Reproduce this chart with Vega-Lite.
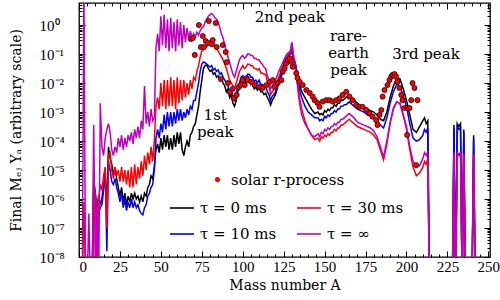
{
"$schema":"https://vega.github.io/schema/vega-lite/v6.json",
"width":411,"height":254,
"autosize":{"type":"none"},
"padding":{"left":79,"top":3,"right":10,"bottom":43},
"config":{
 "font":"DejaVu Serif",
 "view":{"stroke":"black","strokeWidth":1.3},
 "axis":{"grid":false,"domain":false,"tickColor":"black","labelColor":"black","titleColor":"black","labelFont":"Liberation Serif","titleFont":"DejaVu Serif","labelFontSize":15,"titleFontSize":14,"titleFontWeight":"normal","tickWidth":1},
 "legend":{"labelFont":"DejaVu Serif","labelFontSize":14,"labelColor":"black"}
},
"datasets":{
"lines":[
{"A":1,"k":-9,"b":-9,"r":-9,"m":-9},
{"A":2,"k":-9,"b":-9,"r":-9,"m":-9},
{"A":3,"k":-9,"b":-9,"r":-6.1,"m":1.5},
{"A":4,"k":-9,"b":-9,"r":-9,"m":-9},
{"A":5,"k":-9,"b":-9,"r":-9,"m":-9},
{"A":6,"k":-9,"b":-9,"r":-9,"m":-6.5},
{"A":7,"k":-9,"b":-9,"r":-9,"m":-9},
{"A":8,"k":-9,"b":-9,"r":-9,"m":-9},
{"A":9,"k":-5.4,"b":-5.8,"r":-5.3,"m":-3.45},
{"A":10,"k":-5.8,"b":-6.2,"r":-5.9,"m":-9},
{"A":11,"k":-6.3,"b":-6.6,"r":-9,"m":-6.0},
{"A":12,"k":-5.9,"b":-6.5,"r":-6.0,"m":-9},
{"A":13,"k":-6.2,"b":-6.3,"r":-5.5,"m":-2.7},
{"A":14,"k":-6.0,"b":-6.2,"r":-5.7,"m":-4.2},
{"A":15,"k":-5.5,"b":-5.7,"r":-5.2,"m":-4.5},
{"A":16,"k":-5.2,"b":-5.0,"r":-4.9,"m":-3.9},
{"A":17,"k":-6.2,"b":-7.8,"r":-7.0,"m":-3.6},
{"A":18,"k":-4.2,"b":-4.7,"r":-4.5,"m":-3.4},
{"A":19,"k":-4.6,"b":-5.0,"r":-4.4,"m":-3.7},
{"A":20,"k":-4.8,"b":-5.4,"r":-5.0,"m":-4.3},
{"A":21,"k":-5.2,"b":-5.5,"r":-5.3,"m":-4.5},
{"A":22,"k":-4.9,"b":-5.3,"r":-4.9,"m":-4.2},
{"A":23,"k":-5.3,"b":-5.6,"r":-5.2,"m":-4.4},
{"A":24,"k":-5.6,"b":-5.8,"r":-5.0,"m":-3.9},
{"A":25,"k":-5.9,"b":-6.1,"r":-5.4,"m":-4.2},
{"A":26,"k":-5.6,"b":-5.8,"r":-4.9,"m":-3.8},
{"A":27,"k":-6.1,"b":-6.3,"r":-5.4,"m":-4.3},
{"A":28,"k":-5.8,"b":-6.0,"r":-5.0,"m":-3.9},
{"A":29,"k":-6.2,"b":-6.4,"r":-5.5,"m":-4.2},
{"A":30,"k":-5.9,"b":-6.1,"r":-5.0,"m":-3.8},
{"A":31,"k":-6.1,"b":-6.3,"r":-5.6,"m":-4.0},
{"A":32,"k":-5.8,"b":-6.0,"r":-4.9,"m":-3.7},
{"A":33,"k":-6.0,"b":-6.3,"r":-5.6,"m":-4.1},
{"A":34,"k":-5.8,"b":-6.1,"r":-4.8,"m":-3.6},
{"A":35,"k":-6.0,"b":-6.3,"r":-5.5,"m":-3.9},
{"A":36,"k":-5.9,"b":-6.2,"r":-4.9,"m":-3.5},
{"A":37,"k":-6.1,"b":-6.4,"r":-5.3,"m":-3.9},
{"A":38,"k":-5.9,"b":-6.5,"r":-4.7,"m":-3.3},
{"A":39,"k":-6.1,"b":-6.55,"r":-5.2,"m":-3.6},
{"A":40,"k":-5.8,"b":-6.3,"r":-4.5,"m":-2.1},
{"A":41,"k":-5.9,"b":-6.2,"r":-5.0,"m":-3.4},
{"A":42,"k":-5.6,"b":-5.9,"r":-4.4,"m":-3.0},
{"A":43,"k":-5.5,"b":-5.8,"r":-4.8,"m":-3.5},
{"A":44,"k":-5.2,"b":-5.6,"r":-4.2,"m":-2.9},
{"A":45,"k":-5.3,"b":-5.5,"r":-4.7,"m":-3.3},
{"A":46,"k":-4.9,"b":-5.0,"r":-4.0,"m":-3.2},
{"A":47,"k":-4.3,"b":-3.9,"r":-2.8,"m":-0.8},
{"A":48,"k":-4.1,"b":-3.6,"r":-2.5,"m":-0.3},
{"A":49,"k":-4.4,"b":-3.9,"r":-2.9,"m":-0.9},
{"A":50,"k":-3.9,"b":-3.4,"r":-2.0,"m":0.3},
{"A":51,"k":-4.3,"b":-3.7,"r":-2.8,"m":-0.7},
{"A":52,"k":-3.8,"b":-3.1,"r":-1.9,"m":0.35},
{"A":53,"k":-4.2,"b":-3.6,"r":-2.9,"m":-0.8},
{"A":54,"k":-3.8,"b":-3.0,"r":-1.9,"m":0.2},
{"A":55,"k":-4.3,"b":-3.5,"r":-2.8,"m":-0.9},
{"A":56,"k":-3.9,"b":-3.0,"r":-1.8,"m":0.25},
{"A":57,"k":-4.3,"b":-3.5,"r":-2.8,"m":-0.8},
{"A":58,"k":-3.8,"b":-3.0,"r":-1.9,"m":0.1},
{"A":59,"k":-4.2,"b":-3.4,"r":-2.9,"m":-0.9},
{"A":60,"k":-3.7,"b":-2.9,"r":-1.8,"m":0.2},
{"A":61,"k":-4.1,"b":-3.3,"r":-2.7,"m":-0.7},
{"A":62,"k":-3.7,"b":-2.9,"r":-1.9,"m":0.1},
{"A":63,"k":-4.3,"b":-3.3,"r":-2.6,"m":-0.8},
{"A":64,"k":-4.5,"b":-3.0,"r":-1.9,"m":0.0},
{"A":65,"k":-4.2,"b":-3.2,"r":-2.5,"m":-0.6},
{"A":66,"k":-4.0,"b":-2.9,"r":-2.0,"m":-0.1},
{"A":67,"k":-4.2,"b":-3.1,"r":-2.4,"m":-0.5},
{"A":68,"k":-3.8,"b":-2.8,"r":-1.9,"m":-0.2},
{"A":69,"k":-3.7,"b":-2.9,"r":-2.2,"m":-0.45},
{"A":70,"k":-3.5,"b":-2.6,"r":-1.8,"m":-0.3},
{"A":71,"k":-3.4,"b":-2.6,"r":-1.9,"m":-0.4},
{"A":72,"k":-3.1,"b":-2.3,"r":-1.6,"m":-0.25},
{"A":73,"k":-2.8,"b":-2.0,"r":-1.4,"m":-0.35},
{"A":74,"k":-2.3,"b":-1.6,"r":-1.1,"m":-0.2},
{"A":75,"k":-1.9,"b":-1.35,"r":-0.9,"m":-0.1},
{"A":76,"k":-1.5,"b":-1.27,"r":-0.85,"m":-0.05},
{"A":77,"k":-1.4,"b":-1.3,"r":-0.8,"m":0.1},
{"A":78,"k":-1.38,"b":-1.35,"r":-0.75,"m":0.2},
{"A":79,"k":-1.5,"b":-1.4,"r":-0.65,"m":0.3},
{"A":80,"k":-1.6,"b":-1.45,"r":-0.55,"m":0.35},
{"A":81,"k":-1.55,"b":-1.4,"r":-0.5,"m":0.4},
{"A":82,"k":-1.7,"b":-1.55,"r":-0.6,"m":0.35},
{"A":83,"k":-1.65,"b":-1.5,"r":-0.7,"m":0.25},
{"A":84,"k":-1.8,"b":-1.6,"r":-0.8,"m":0.2},
{"A":85,"k":-1.75,"b":-1.55,"r":-0.9,"m":0.1},
{"A":86,"k":-1.9,"b":-1.7,"r":-1.0,"m":-0.1},
{"A":87,"k":-1.85,"b":-1.65,"r":-1.1,"m":-0.3},
{"A":88,"k":-2.0,"b":-1.8,"r":-1.2,"m":-0.45},
{"A":89,"k":-2.1,"b":-1.9,"r":-1.35,"m":-0.7},
{"A":90,"k":-2.3,"b":-2.0,"r":-1.5,"m":-0.9},
{"A":91,"k":-2.2,"b":-2.1,"r":-1.7,"m":-1.1},
{"A":92,"k":-2.5,"b":-2.3,"r":-1.9,"m":-1.3},
{"A":93,"k":-2.4,"b":-2.2,"r":-2.0,"m":-1.5},
{"A":94,"k":-2.7,"b":-2.5,"r":-2.1,"m":-1.7},
{"A":95,"k":-2.8,"b":-2.6,"r":-2.2,"m":-1.8},
{"A":96,"k":-2.6,"b":-2.4,"r":-2.0,"m":-1.6},
{"A":97,"k":-2.3,"b":-2.1,"r":-1.8,"m":-1.4},
{"A":98,"k":-2.2,"b":-2.0,"r":-1.6,"m":-1.2},
{"A":99,"k":-2.0,"b":-1.8,"r":-1.5,"m":-1.1},
{"A":100,"k":-1.9,"b":-1.75,"r":-1.4,"m":-1.05},
{"A":101,"k":-2.05,"b":-1.85,"r":-1.5,"m":-1.15},
{"A":102,"k":-2.0,"b":-1.8,"r":-1.45,"m":-1.1},
{"A":103,"k":-1.85,"b":-1.7,"r":-1.35,"m":-1.0},
{"A":104,"k":-1.9,"b":-1.7,"r":-1.35,"m":-1.0},
{"A":105,"k":-2.05,"b":-1.8,"r":-1.4,"m":-1.05},
{"A":106,"k":-2.0,"b":-1.8,"r":-1.4,"m":-1.05},
{"A":107,"k":-2.2,"b":-1.95,"r":-1.5,"m":-1.15},
{"A":108,"k":-2.15,"b":-1.9,"r":-1.5,"m":-1.15},
{"A":109,"k":-2.25,"b":-2.0,"r":-1.55,"m":-1.2},
{"A":110,"k":-2.15,"b":-1.9,"r":-1.5,"m":-1.2},
{"A":111,"k":-2.3,"b":-2.05,"r":-1.65,"m":-1.3},
{"A":112,"k":-2.3,"b":-2.05,"r":-1.65,"m":-1.35},
{"A":113,"k":-2.4,"b":-2.1,"r":-1.7,"m":-1.45},
{"A":114,"k":-2.35,"b":-2.1,"r":-1.7,"m":-1.5},
{"A":115,"k":-2.5,"b":-2.3,"r":-1.95,"m":-1.75},
{"A":116,"k":-2.6,"b":-2.4,"r":-2.1,"m":-1.9},
{"A":117,"k":-2.76,"b":-2.6,"r":-2.4,"m":-2.2},
{"A":118,"k":-2.6,"b":-2.45,"r":-2.3,"m":-2.1},
{"A":119,"k":-2.5,"b":-2.4,"r":-2.2,"m":-2.0},
{"A":120,"k":-2.4,"b":-2.3,"r":-2.1,"m":-1.9},
{"A":122,"k":-2.0,"b":-1.9,"r":-1.8,"m":-1.6},
{"A":124,"k":-1.7,"b":-1.6,"r":-1.5,"m":-1.35},
{"A":126,"k":-1.3,"b":-1.25,"r":-1.2,"m":-1.1},
{"A":127,"k":-1.2,"b":-1.15,"r":-1.1,"m":-1.0},
{"A":128,"k":-1.1,"b":-1.05,"r":-1.0,"m":-0.95},
{"A":129,"k":-1.0,"b":-1.0,"r":-0.95,"m":-0.9},
{"A":130,"k":-0.9,"b":-0.85,"r":-0.6,"m":-0.6},
{"A":131,"k":-1.2,"b":-1.15,"r":-1.1,"m":-1.05},
{"A":132,"k":-1.3,"b":-1.3,"r":-1.35,"m":-1.4},
{"A":133,"k":-1.6,"b":-1.65,"r":-1.8,"m":-1.9},
{"A":134,"k":-1.9,"b":-2.0,"r":-2.2,"m":-2.4},
{"A":135,"k":-2.1,"b":-2.3,"r":-2.6,"m":-2.8},
{"A":136,"k":-2.3,"b":-2.5,"r":-2.9,"m":-3.1},
{"A":138,"k":-2.5,"b":-2.8,"r":-3.3,"m":-3.4},
{"A":140,"k":-2.7,"b":-3.0,"r":-3.6,"m":-3.6},
{"A":142,"k":-2.9,"b":-3.1,"r":-3.8,"m":-3.8},
{"A":144,"k":-3.05,"b":-3.2,"r":-3.95,"m":-3.85},
{"A":146,"k":-3.0,"b":-3.2,"r":-3.9,"m":-3.75},
{"A":147,"k":-3.1,"b":-3.3,"r":-4.0,"m":-3.85},
{"A":148,"k":-3.05,"b":-3.25,"r":-3.85,"m":-3.7},
{"A":149,"k":-3.1,"b":-3.3,"r":-3.9,"m":-3.75},
{"A":150,"k":-2.95,"b":-3.15,"r":-3.8,"m":-3.6},
{"A":151,"k":-3.0,"b":-3.2,"r":-3.85,"m":-3.65},
{"A":152,"k":-2.9,"b":-3.1,"r":-3.75,"m":-3.55},
{"A":153,"k":-2.95,"b":-3.15,"r":-3.8,"m":-3.6},
{"A":154,"k":-2.85,"b":-3.05,"r":-3.7,"m":-3.5},
{"A":155,"k":-2.85,"b":-3.05,"r":-3.7,"m":-3.5},
{"A":156,"k":-2.75,"b":-2.95,"r":-3.6,"m":-3.4},
{"A":157,"k":-2.8,"b":-3.0,"r":-3.65,"m":-3.45},
{"A":158,"k":-2.7,"b":-2.9,"r":-3.55,"m":-3.35},
{"A":159,"k":-2.7,"b":-2.9,"r":-3.55,"m":-3.35},
{"A":160,"k":-2.6,"b":-2.8,"r":-3.45,"m":-3.25},
{"A":161,"k":-2.6,"b":-2.8,"r":-3.45,"m":-3.25},
{"A":162,"k":-2.55,"b":-2.75,"r":-3.4,"m":-3.2},
{"A":163,"k":-2.5,"b":-2.75,"r":-3.35,"m":-3.15},
{"A":164,"k":-2.45,"b":-2.7,"r":-3.3,"m":-3.1},
{"A":165,"k":-2.4,"b":-2.65,"r":-3.25,"m":-3.05},
{"A":166,"k":-2.5,"b":-2.7,"r":-3.3,"m":-3.1},
{"A":168,"k":-2.6,"b":-2.8,"r":-3.4,"m":-3.2},
{"A":170,"k":-2.7,"b":-2.9,"r":-3.5,"m":-3.35},
{"A":172,"k":-2.8,"b":-2.95,"r":-3.55,"m":-3.4},
{"A":174,"k":-2.85,"b":-3.0,"r":-3.6,"m":-3.45},
{"A":176,"k":-2.9,"b":-3.1,"r":-3.65,"m":-3.5},
{"A":178,"k":-2.95,"b":-3.15,"r":-3.7,"m":-3.55},
{"A":180,"k":-3.0,"b":-3.2,"r":-3.8,"m":-3.65},
{"A":182,"k":-3.1,"b":-3.3,"r":-3.95,"m":-3.85},
{"A":184,"k":-3.25,"b":-3.45,"r":-4.3,"m":-4.2},
{"A":186,"k":-3.3,"b":-3.55,"r":-4.65,"m":-4.55},
{"A":188,"k":-3.0,"b":-3.2,"r":-4.1,"m":-4.0},
{"A":190,"k":-2.5,"b":-2.7,"r":-3.4,"m":-3.35},
{"A":192,"k":-2.1,"b":-2.3,"r":-2.9,"m":-2.85},
{"A":194,"k":-1.85,"b":-2.05,"r":-2.65,"m":-2.65},
{"A":196,"k":-1.85,"b":-2.1,"r":-2.7,"m":-2.7},
{"A":198,"k":-2.2,"b":-2.45,"r":-3.1,"m":-3.1},
{"A":200,"k":-2.6,"b":-2.8,"r":-3.6,"m":-3.5},
{"A":202,"k":-3.1,"b":-3.4,"r":-4.3,"m":-4.2},
{"A":204,"k":-3.6,"b":-3.9,"r":-4.9,"m":-4.7},
{"A":206,"k":-3.7,"b":-4.0,"r":-5.2,"m":-4.9},
{"A":208,"k":-3.5,"b":-3.95,"r":-5.1,"m":-4.85},
{"A":210,"k":-3.3,"b":-3.8,"r":-4.9,"m":-4.6},
{"A":211,"k":-3.2,"b":-3.6,"r":-4.7,"m":-4.4},
{"A":212,"k":-3.4,"b":-3.7,"r":-4.8,"m":-4.5},
{"A":213,"k":-3.3,"b":-3.55,"r":-4.6,"m":-4.35},
{"A":214,"k":-9,"b":-9,"r":-9,"m":-9},
{"A":228,"k":-9,"b":-9,"r":-9,"m":-9},
{"A":229,"k":-3.45,"b":-3.55,"r":-4.5,"m":-4.4},
{"A":230,"k":-9,"b":-9,"r":-9,"m":-9},
{"A":231,"k":-3.4,"b":-3.5,"r":-4.5,"m":-4.4},
{"A":232,"k":-3.5,"b":-3.6,"r":-4.5,"m":-4.45},
{"A":233,"k":-3.4,"b":-3.55,"r":-4.5,"m":-4.4},
{"A":234,"k":-9,"b":-9,"r":-9,"m":-9},
{"A":235,"k":-3.6,"b":-3.7,"r":-4.5,"m":-4.45},
{"A":236,"k":-9,"b":-9,"r":-9,"m":-9},
{"A":240,"k":-9,"b":-9,"r":-9,"m":-9},
{"A":241,"k":-3.8,"b":-3.9,"r":-4.5,"m":-4.45},
{"A":242,"k":-9,"b":-9,"r":-9,"m":-9}
],
"solar":[
{"A":68.3,"logY":-0.48},{"A":69.5,"logY":-0.45},{"A":70.7,"logY":-1.03},{"A":73.2,"logY":0.0},{"A":74.4,"logY":-0.76},{"A":75.6,"logY":-0.38},{"A":76.2,"logY":-0.76},{"A":77.4,"logY":-0.55},{"A":78.7,"logY":-0.62},{"A":79.3,"logY":0.14},{"A":81.1,"logY":-0.66},{"A":81.7,"logY":-0.52},{"A":83.5,"logY":0.07},{"A":84.1,"logY":-0.76},{"A":86.6,"logY":-1.86},{"A":87.8,"logY":-0.69},{"A":89.6,"logY":-0.93},{"A":90.2,"logY":-1.28},{"A":90.9,"logY":-2.0},{"A":92.1,"logY":-2.31},{"A":93.9,"logY":-2.2},{"A":94.5,"logY":-2.52},{"A":96.3,"logY":-2.41},{"A":97.6,"logY":-2.14},{"A":98.8,"logY":-2.07},{"A":100,"logY":-1.9},{"A":101.2,"logY":-2.07},{"A":102.4,"logY":-1.83},{"A":103.0,"logY":-1.9},{"A":105.3,"logY":-1.96},{"A":107.3,"logY":-2.07},{"A":110.4,"logY":-2.13},{"A":112.2,"logY":-2.17},{"A":114.5,"logY":-2.07},{"A":116.5,"logY":-1.96},{"A":118.3,"logY":-1.9},{"A":119.5,"logY":-2.13},{"A":121.3,"logY":-2.0},{"A":123.6,"logY":-1.9},{"A":124.4,"logY":-1.61},{"A":125.6,"logY":-1.49},{"A":126.6,"logY":-1.32},{"A":127.4,"logY":-1.21},{"A":128.7,"logY":-1.15},{"A":129.7,"logY":-1.27},{"A":130.5,"logY":-1.44},{"A":132.7,"logY":-1.66},{"A":133.5,"logY":-1.83},{"A":134.8,"logY":-1.96},{"A":136.6,"logY":-2.07},{"A":138.8,"logY":-2.24},{"A":140.9,"logY":-2.34},{"A":142.7,"logY":-2.47},{"A":143.9,"logY":-2.59},{"A":145.7,"logY":-2.69},{"A":146.9,"logY":-2.82},{"A":148.8,"logY":-2.64},{"A":151.0,"logY":-2.59},{"A":153.0,"logY":-2.59},{"A":154.9,"logY":-2.64},{"A":157.1,"logY":-2.59},{"A":159.1,"logY":-2.53},{"A":161.0,"logY":-2.41},{"A":163.2,"logY":-2.3},{"A":165.2,"logY":-2.47},{"A":167.1,"logY":-2.59},{"A":169.3,"logY":-2.76},{"A":171.3,"logY":-2.82},{"A":173.2,"logY":-2.82},{"A":175.4,"logY":-2.93},{"A":177.4,"logY":-3.04},{"A":179.3,"logY":-3.16},{"A":181.5,"logY":-3.28},{"A":182.3,"logY":-3.45},{"A":183.5,"logY":-3.1},{"A":184.6,"logY":-2.93},{"A":185.4,"logY":-2.47},{"A":186.6,"logY":-2.24},{"A":188.4,"logY":-2.07},{"A":189.6,"logY":-1.9},{"A":190.7,"logY":-1.78},{"A":191.5,"logY":-1.72},{"A":192.7,"logY":-1.69},{"A":193.7,"logY":-1.78},{"A":194.5,"logY":-1.96},{"A":195.7,"logY":-2.17},{"A":196.8,"logY":-2.41},{"A":197.6,"logY":-2.59},{"A":198.8,"logY":-2.86},{"A":200.4,"logY":-3.79},{"A":200.6,"logY":-2.86},{"A":201.8,"logY":-2.86},{"A":202.9,"logY":-2.59},{"A":203.7,"logY":-2.0},{"A":204.9,"logY":-2.17},{"A":205.9,"logY":-4.83},{"A":206.7,"logY":-2.59}
],
"labels":[
{"A":83.2,"y":-3.28,"t":"1st\npeak"},
{"A":128.7,"y":0.1,"t":"2nd peak"},
{"A":164.6,"y":-0.55,"t":"rare-\nearth\npeak"},
{"A":211.9,"y":-1.17,"t":"3rd peak"}
]
},
"layer":[
{
 "data":{"name":"lines"},
 "transform":[{"fold":["k","b","r","m"],"as":["series","logY"]}],
 "mark":{"type":"line","clip":true,"strokeWidth":1.5},
 "encoding":{
  "x":{"field":"A","type":"quantitative","scale":{"domain":[0,251],"nice":false,"zero":false},
       "axis":{"orient":"bottom","values":[0,25,50,75,100,125,150,175,200,225,250],"tickSize":-6,"labelPadding":8,"title":"Mass number A","titlePadding":4}},
  "y":{"field":"logY","type":"quantitative","scale":{"domain":[-8,0.76],"nice":false,"zero":false},
       "axis":{"orient":"left","values":[-8,-7,-6,-5,-4,-3,-2,-1,0],"tickSize":-6,"labelPadding":46,"labelAlign":"left",
               "labelExpr":"datum.value == 0 ? '10⁰' : '10⁻' + ['','¹','²','³','⁴','⁵','⁶','⁷','⁸'][-datum.value]",
               "title":"Final Mₑⱼ Yₐ (arbitrary scale)","titlePadding":16}},
  "color":{"field":"series","type":"nominal","scale":{"domain":["k","b","r","m"],"range":["black","blue","red","#bf00bf"]},
       "legend":{"orient":"none","legendX":90,"legendY":192,"title":null,"columns":2,"columnPadding":16,"rowPadding":5,
                 "symbolType":"stroke","symbolSize":576,"symbolStrokeWidth":1.6,"labelOffset":5,"labelFontSize":15,
                 "labelExpr":"datum.label == 'k' ? 'τ = 0 ms' : datum.label == 'b' ? 'τ = 10 ms' : datum.label == 'r' ? 'τ = 30 ms' : 'τ = ∞'"}}
 }
},
{
 "data":{"name":"solar"},
 "mark":{"type":"point","filled":true,"fill":"red","stroke":"black","strokeWidth":0.7,"size":26,"opacity":1},
 "encoding":{
  "x":{"field":"A","type":"quantitative","scale":{"domain":[0,251],"nice":false,"zero":false},
       "axis":{"orient":"bottom","values":[5,10,15,20,30,35,40,45,55,60,65,70,80,85,90,95,105,110,115,120,130,135,140,145,155,160,165,170,180,185,190,195,205,210,215,220,230,235,240,245],"tickSize":-3,"labels":false,"title":null}},
  "y":{"field":"logY","type":"quantitative","scale":{"domain":[-8,0.76],"nice":false,"zero":false},
       "axis":{"orient":"left","values":[-7.699,-7.523,-7.398,-7.301,-7.222,-7.155,-7.097,-7.046,-6.699,-6.523,-6.398,-6.301,-6.222,-6.155,-6.097,-6.046,-5.699,-5.523,-5.398,-5.301,-5.222,-5.155,-5.097,-5.046,-4.699,-4.523,-4.398,-4.301,-4.222,-4.155,-4.097,-4.046,-3.699,-3.523,-3.398,-3.301,-3.222,-3.155,-3.097,-3.046,-2.699,-2.523,-2.398,-2.301,-2.222,-2.155,-2.097,-2.046,-1.699,-1.523,-1.398,-1.301,-1.222,-1.155,-1.097,-1.046,-0.699,-0.523,-0.398,-0.301,-0.222,-0.155,-0.097,-0.046,0.301,0.477,0.602,0.699],"tickSize":-3,"labels":false,"title":null}},
  "shape":{"datum":"solar r-process","type":"nominal","scale":{"range":["circle"]},
       "legend":{"orient":"none","legendX":131,"legendY":169,"title":null,"symbolFillColor":"red","symbolStrokeColor":"black","symbolStrokeWidth":0.7,"symbolSize":26,"labelOffset":6,"labelFontSize":15}}
 }
},
{
 "data":{"name":"labels"},
 "mark":{"type":"text","lineBreak":"\n","fontSize":15,"align":"center","baseline":"alphabetic","lineHeight":17,"color":"black"},
 "encoding":{
  "x":{"field":"A","type":"quantitative","scale":{"domain":[0,251],"nice":false,"zero":false},
       "axis":{"orient":"top","values":[0,25,50,75,100,125,150,175,200,225,250],"tickSize":-6,"labels":false,"title":null}},
  "y":{"field":"y","type":"quantitative","scale":{"domain":[-8,0.76],"nice":false,"zero":false},
       "axis":{"orient":"right","values":[-8,-7,-6,-5,-4,-3,-2,-1,0],"tickSize":-6,"labels":false,"title":null}},
  "text":{"field":"t","type":"nominal"}
 }
},
{
 "data":{"name":"labels"},
 "mark":{"type":"point","opacity":0},
 "encoding":{
  "x":{"field":"A","type":"quantitative","scale":{"domain":[0,251],"nice":false,"zero":false},
       "axis":{"orient":"top","values":[5,10,15,20,30,35,40,45,55,60,65,70,80,85,90,95,105,110,115,120,130,135,140,145,155,160,165,170,180,185,190,195,205,210,215,220,230,235,240,245],"tickSize":-3,"labels":false,"title":null}},
  "y":{"field":"y","type":"quantitative","scale":{"domain":[-8,0.76],"nice":false,"zero":false},
       "axis":{"orient":"right","values":[-7.699,-7.523,-7.398,-7.301,-7.222,-7.155,-7.097,-7.046,-6.699,-6.523,-6.398,-6.301,-6.222,-6.155,-6.097,-6.046,-5.699,-5.523,-5.398,-5.301,-5.222,-5.155,-5.097,-5.046,-4.699,-4.523,-4.398,-4.301,-4.222,-4.155,-4.097,-4.046,-3.699,-3.523,-3.398,-3.301,-3.222,-3.155,-3.097,-3.046,-2.699,-2.523,-2.398,-2.301,-2.222,-2.155,-2.097,-2.046,-1.699,-1.523,-1.398,-1.301,-1.222,-1.155,-1.097,-1.046,-0.699,-0.523,-0.398,-0.301,-0.222,-0.155,-0.097,-0.046,0.301,0.477,0.602,0.699],"tickSize":-3,"labels":false,"title":null}}
 }
}
],
"resolve":{"axis":{"x":"independent","y":"independent"}}
}
